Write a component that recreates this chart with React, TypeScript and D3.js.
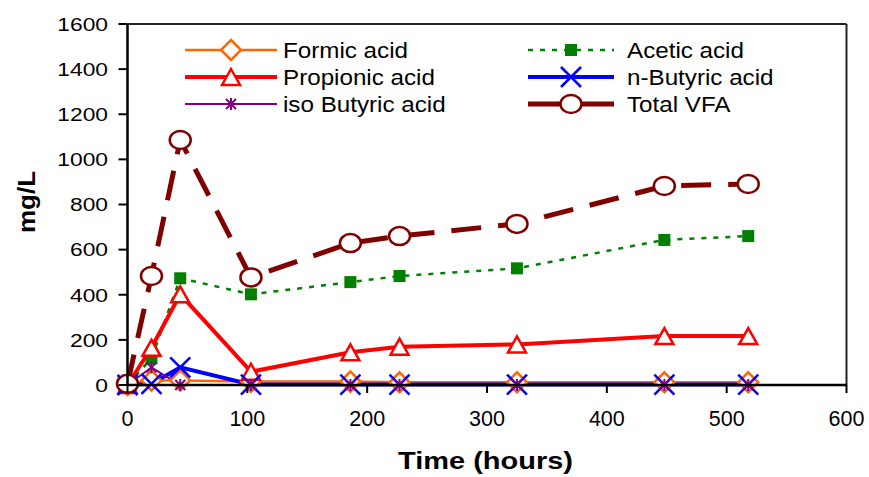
import React from "react";
import * as d3 from "d3";

const times = [0, 20, 44, 103, 186, 227, 325, 448, 518];
const formic = [0, 20, 20, 15, 15, 12, 12, 12, 12];
const acetic = [0, 118, 473, 402, 456, 483, 517, 643, 660];
const propionic = [0, 165, 402, 59, 145, 170, 180, 217, 217];
const nButyric = [0, 5, 78, 2, 2, 2, 2, 2, 2];
const isoButyric = [0, 78, 0, 0, 0, 0, 0, 0, 0];
const totalVFA = [5, 483, 1086, 477, 629, 660, 714, 882, 891];

const seriesNames = ["Formic acid", "Acetic acid", "Propionic acid", "n-Butyric acid", "iso Butyric acid", "Total VFA"];
const xTicks = [0, 100, 200, 300, 400, 500, 600];
const yTicks = [0, 200, 400, 600, 800, 1000, 1200, 1400, 1600];

type Style = { color: string; width: number; dash?: string; marker: string };
const styles: Style[] = [
  { color: "#FF6600", width: 2.5, marker: "diamond" },
  { color: "#008000", width: 2.5, dash: "5 7", marker: "square" },
  { color: "#FF0000", width: 4, marker: "triangle" },
  { color: "#0000FF", width: 4, marker: "x" },
  { color: "#800080", width: 2, marker: "star" },
  { color: "#800000", width: 5, dash: "30 17", marker: "circle" },
];

const FONT = "'Liberation Sans', Arial, sans-serif";

function Marker({ type, cx, cy, color }: { type: string; cx: number; cy: number; color: string }) {
  switch (type) {
    case "diamond":
      return <path d={`M${cx},${cy - 10}L${cx + 10},${cy}L${cx},${cy + 10}L${cx - 10},${cy}Z`} fill="white" stroke={color} strokeWidth={2.5} />;
    case "square":
      return <rect x={cx - 6} y={cy - 6} width={12} height={12} fill={color} stroke="none" />;
    case "triangle":
      return <path d={`M${cx},${cy - 8}L${cx + 9},${cy + 8}L${cx - 9},${cy + 8}Z`} fill="white" stroke={color} strokeWidth={2.5} />;
    case "x":
      return (
        <g stroke={color} strokeWidth={2.5}>
          <line x1={cx - 10} y1={cy - 10} x2={cx + 10} y2={cy + 10} />
          <line x1={cx - 10} y1={cy + 10} x2={cx + 10} y2={cy - 10} />
        </g>
      );
    case "star":
      return (
        <g stroke={color} strokeWidth={2}>
          <line x1={cx - 5} y1={cy - 5} x2={cx + 5} y2={cy + 5} />
          <line x1={cx - 5} y1={cy + 5} x2={cx + 5} y2={cy - 5} />
          <line x1={cx} y1={cy - 6} x2={cx} y2={cy + 6} />
        </g>
      );
    case "circle":
      return <ellipse cx={cx} cy={cy} rx={10.5} ry={9} fill="white" stroke={color} strokeWidth={2.5} />;
  }
  return null;
}

export default function App() {
  const x = d3.scaleLinear().domain([0, 600]).range([127.5, 846.5]);
  const y = d3.scaleLinear().domain([0, 1600]).range([385, 24]);
  const data = [formic, acetic, propionic, nButyric, isoButyric, totalVFA];
  const line = d3
    .line<number>()
    .x((_, i) => x(times[i]))
    .y((d) => y(d));

  const legendCols = [
    { lx1: 185, lx2: 277, mx: 231, tx: 283 },
    { lx1: 528, lx2: 614, mx: 571, tx: 627 },
  ];
  const legendRows = [50, 77, 104];

  return (
    <svg width={869} height={477} style={{ position: "absolute", left: 0, top: 0, background: "white" }} fontFamily={FONT}>
      <rect width={869} height={477} fill="white" />
      {/* frame */}
      <line x1={x(0)} y1={y(1600)} x2={x(600)} y2={y(1600)} stroke="#222" strokeWidth={2} />
      <line x1={x(600)} y1={y(1600)} x2={x(600)} y2={y(0)} stroke="#222" strokeWidth={2} />

      {/* series lines */}
      {data.map((vals, si) => (
        <path
          key={"l" + si}
          d={line(vals) || ""}
          fill="none"
          stroke={styles[si].color}
          strokeWidth={styles[si].width}
          strokeDasharray={styles[si].dash}
        />
      ))}
      {/* markers */}
      {data.map((vals, si) => (
        <g key={"m" + si}>
          {vals.map((v, i) => (
            <Marker key={i} type={styles[si].marker} cx={x(times[i])} cy={y(v)} color={styles[si].color} />
          ))}
        </g>
      ))}

      {/* axes */}
      <line x1={x(0)} y1={y(0)} x2={x(600)} y2={y(0)} stroke="black" strokeWidth={2.5} />
      <line x1={x(0)} y1={y(0)} x2={x(0)} y2={y(1600)} stroke="black" strokeWidth={2.5} />
      {xTicks.map((t) => (
        <g key={"xt" + t}>
          <line x1={x(t)} y1={y(0)} x2={x(t)} y2={y(0) + 8} stroke="black" strokeWidth={2} />
          <text x={x(t)} y={426} textAnchor="middle" fontSize={21.5} fill="black">
            {t}
          </text>
        </g>
      ))}
      {yTicks.map((t) => (
        <g key={"yt" + t}>
          <line x1={x(0) - 9} y1={y(t)} x2={x(0)} y2={y(t)} stroke="black" strokeWidth={2} />
          <text transform={`translate(108,${y(t) + 6.8}) scale(1.2,1)`} textAnchor="end" fontSize={19} fill="black">
            {t}
          </text>
        </g>
      ))}

      {/* axis titles */}
      <text transform={`translate(485.5,469.3) scale(1.26,1)`} textAnchor="middle" fontSize={23} fontWeight="bold" fill="black">
        Time (hours)
      </text>
      <text transform={`translate(34.5,202) rotate(-90) scale(1.13,1)`} textAnchor="middle" fontSize={23} fontWeight="bold" fill="black">
        mg/L
      </text>

      {/* legend */}
      {seriesNames.map((name, si) => {
        const col = legendCols[si % 2];
        const ry = legendRows[Math.floor(si / 2)];
        const st = styles[si];
        return (
          <g key={"lg" + si}>
            <line
              x1={col.lx1}
              y1={ry}
              x2={col.lx2}
              y2={ry}
              stroke={st.color}
              strokeWidth={st.width}
              strokeDasharray={st.dash ? (st.marker === "square" ? "5 7" : undefined) : undefined}
            />
            <Marker type={st.marker} cx={col.mx} cy={ry} color={st.color} />
            <text transform={`translate(${col.tx},${ry + 8}) scale(1.1,1)`} fontSize={22} fill="black">
              {name}
            </text>
          </g>
        );
      })}
    </svg>
  );
}
